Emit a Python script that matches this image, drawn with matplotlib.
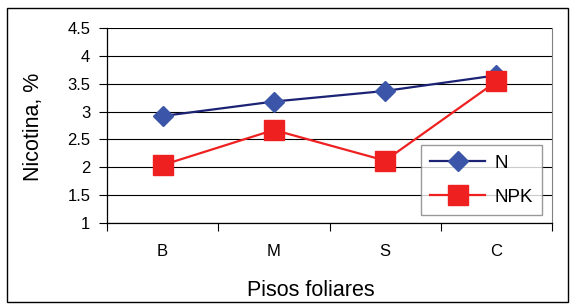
import matplotlib
matplotlib.use("Agg")
import matplotlib.pyplot as plt
from matplotlib.patches import Rectangle

plt.rcParams['font.family'] = ['Liberation Sans', 'DejaVu Sans']

pisos = ["B", "M", "S", "C"]
nic_n = [2.92, 3.18, 3.37, 3.65]
nic_npk = [2.04, 2.67, 2.12, 3.54]
yticks = [1, 1.5, 2, 2.5, 3, 3.5, 4, 4.5]
ytick_labels = ["1", "1.5", "2", "2.5", "3", "3.5", "4", "4.5"]

W, H = 576, 308
fig = plt.figure(figsize=(W / 100, H / 100), dpi=100)

# outer border of the chart area
fig.patches.append(Rectangle((7 / W, 1 - 302 / H), 561 / W, 294 / H,
                             transform=fig.transFigure, fill=False,
                             edgecolor="black", linewidth=1.0))

ax = fig.add_axes([107 / W, 1 - 223 / H, 445 / W, 195 / H])

x = list(range(len(pisos)))
ax.plot(x, nic_n, color="#1c2375", linewidth=1.6, marker="D", markersize=10,
        markerfacecolor="#3b56a9", markeredgecolor="#3b56a9", label="N", zorder=3)
ax.plot(x, nic_npk, color="#ee2020", linewidth=1.6, marker="s", markersize=14,
        markerfacecolor="#ee2020", markeredgecolor="#ee2020", label="NPK", zorder=4)

ax.set_ylim(1, 4.5)
ax.set_yticks(yticks)
ax.set_yticklabels(ytick_labels)
for yv in yticks:
    ax.axhline(yv, color="black", linewidth=0.8, zorder=1)

ax.set_xlim(-0.5, 3.5)
ax.set_xticks(x)
ax.set_xticklabels(pisos)
ax.set_xticks([-0.5, 0.5, 1.5, 2.5, 3.5], minor=True)
ax.tick_params(axis="x", which="major", length=0, pad=15, labelsize=12)
ax.tick_params(axis="x", which="minor", length=6, direction="out", width=0.8)
ax.tick_params(axis="y", length=6, direction="out", width=0.8, pad=6, labelsize=12)

ax.spines["top"].set_visible(False)
ax.spines["right"].set_color("#808080")
ax.spines["left"].set_linewidth(0.9)
ax.spines["bottom"].set_linewidth(0.9)

leg = ax.legend(loc="upper left", bbox_to_anchor=((421 - 107) / 445, (223 - 145) / 195),
                fontsize=13.5, frameon=True, fancybox=False, handlelength=2.9,
                borderpad=0.5, labelspacing=0.9, handletextpad=0.5, borderaxespad=0)
leg.get_frame().set_edgecolor("#808080")
leg.get_frame().set_linewidth(1.0)

fig.text(33 / W, 1 - 127 / H, "Nicotina, %", rotation=90, ha="center", va="center", fontsize=15.5)
fig.text(311 / W, 1 - 291 / H, "Pisos foliares", ha="center", va="center", fontsize=15.5)

fig.savefig("out.png", dpi=100)
